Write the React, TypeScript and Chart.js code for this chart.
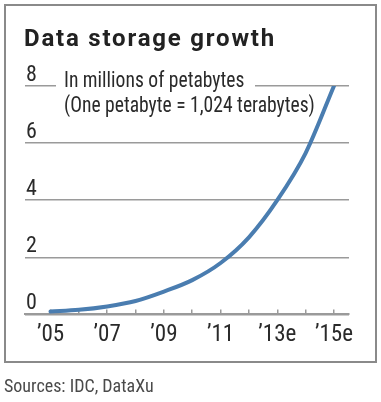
import React, { useEffect, useRef } from "react";
import { Chart, registerables } from "chart.js";

Chart.register(...registerables);

const years = [2005, 2006, 2007, 2008, 2009, 2010, 2011, 2012, 2013, 2014, 2015];
const storage = [0.1, 0.16, 0.28, 0.47, 0.8, 1.2, 1.8, 2.7, 4.0, 5.65, 8.0];
const xTickLabels = ["’05", "", "’07", "", "’09", "", "’11", "", "’13e", "", "’15e"];
const yTicks = [0, 2, 4, 6, 8];

const titleText = "Data storage growth";
const subtitleLines = ["In millions of petabytes", "(One petabyte = 1,024 terabytes)"];
const sourceText = "Sources: IDC, DataXu";

const NARROW = "'Roboto Condensed', sans-serif";
const GRID = "#9a9a9a";
const TEXT = "#2a2a2a";

export default function App() {
  const ref = useRef<HTMLCanvasElement | null>(null);

  useEffect(() => {
    const canvas = ref.current;
    if (!canvas) return;

    const decor = {
      id: "decor",
      beforeDraw(chart: any) {
        const ctx = chart.ctx;
        ctx.save();
        ctx.fillStyle = "#ffffff";
        ctx.fillRect(0, 0, chart.width, chart.height);
        ctx.restore();
      },
      beforeDatasetsDraw(chart: any) {
        const ctx = chart.ctx;
        const y8 = chart.scales.y.getPixelForValue(8);
        ctx.save();
        ctx.fillStyle = "#ffffff";
        ctx.fillRect(56, y8 - 3, 199, 6);
        ctx.fillStyle = TEXT;
        ctx.font = `22.5px ${NARROW}`;
        ctx.textAlign = "left";
        ctx.textBaseline = "alphabetic";
        ctx.translate(64, 0);
        ctx.scale(0.87, 1);
        ctx.fillText(subtitleLines[0], 0, y8 + 1);
        ctx.fillText(subtitleLines[1], 0, y8 + 26);
        ctx.restore();
      },
      afterDraw(chart: any) {
        const ctx = chart.ctx;
        ctx.save();
        ctx.strokeStyle = "#8a8a8a";
        ctx.lineWidth = 2;
        ctx.strokeRect(5, 5, 371, 357);
        ctx.fillStyle = "#222222";
        ctx.font = "bold 24px Roboto, sans-serif";
        (ctx as any).letterSpacing = "1.8px";
        ctx.textAlign = "left";
        ctx.textBaseline = "alphabetic";
        ctx.fillText(titleText, 24, 46);
        (ctx as any).letterSpacing = "0px";
        ctx.fillStyle = "#4a4a4a";
        ctx.font = `18px ${NARROW}`;
        ctx.fillText(sourceText, 4, 392);
        ctx.restore();
      },
    };

    const chart = new Chart(canvas, {
      type: "line",
      data: {
        datasets: [
          {
            data: years.map((x, i) => ({ x, y: storage[i] })),
            borderColor: "#4a7db0",
            borderWidth: 4,
            pointRadius: 0,
            cubicInterpolationMode: "monotone",
            borderCapStyle: "round",
            fill: false,
          },
        ],
      },
      options: {
        animation: false,
        responsive: false,
        devicePixelRatio: 1,
        layout: { padding: { top: 86, left: 23, right: 32, bottom: 41 } },
        plugins: {
          legend: { display: false },
          title: { display: false },
          tooltip: { enabled: false },
        },
        scales: {
          x: {
            type: "linear",
            min: 2004.1,
            max: 2015.53,
            afterBuildTicks: (scale: any) => {
              scale.ticks = years.map((v) => ({ value: v }));
            },
            ticks: {
              autoSkip: false,
              maxRotation: 0,
              padding: 12,
              color: TEXT,
              font: { family: NARROW, size: 23 },
              callback: (value: any) => {
                const i = years.indexOf(Number(value));
                return i >= 0 ? xTickLabels[i] : "";
              },
            },
            grid: {
              drawOnChartArea: false,
              drawTicks: true,
              tickLength: -5,
              color: GRID,
              lineWidth: 1.5,
            },
            border: { display: true, color: GRID, width: 2 },
          },
          y: {
            min: 0,
            max: 8,
            afterBuildTicks: (scale: any) => {
              scale.ticks = yTicks.map((v) => ({ value: v }));
            },
            ticks: {
              mirror: true,
              padding: 1,
              labelOffset: -11,
              color: TEXT,
              font: { family: NARROW, size: 22 },
            },
            grid: {
              drawTicks: false,
              color: GRID,
              lineWidth: 1.5,
            },
            border: { display: false },
          },
        },
      },
      plugins: [decor],
    } as any);

    return () => chart.destroy();
  }, []);

  return (
    <div style={{ position: "absolute", left: 0, top: 0, width: 381, height: 402 }}>
      <canvas ref={ref} width={381} height={402} style={{ display: "block" }} />
    </div>
  );
}
